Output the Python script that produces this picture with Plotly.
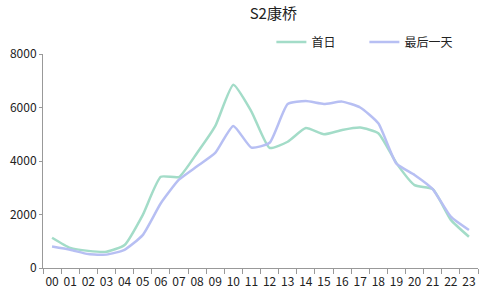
import plotly.graph_objects as go

hours = [f"{h:02d}" for h in range(24)]
first_day = [1130, 750, 640, 610, 860, 1980, 3410, 3400, 4300, 5300, 6850, 5850,
             4490, 4720, 5230, 5000, 5160, 5250, 5040, 3920, 3100, 2950, 1800, 1170]
last_day = [800, 680, 520, 500, 680, 1230, 2420, 3300, 3800, 4300, 5310, 4500,
            4680, 6130, 6240, 6130, 6220, 6000, 5410, 3900, 3480, 2950, 1920, 1420]
y_ticks = [0, 2000, 4000, 6000, 8000]

font = "Noto Sans CJK SC"
fig = go.Figure()
fig.add_trace(go.Scatter(x=hours, y=first_day, name="首日", mode="lines",
                         line=dict(color="#a3dcc8", width=2.5, shape="spline", smoothing=0.5)))
fig.add_trace(go.Scatter(x=hours, y=last_day, name="最后一天", mode="lines",
                         line=dict(color="#b7bff3", width=2.5, shape="spline", smoothing=0.5)))

fig.update_layout(
    width=488, height=302,
    margin=dict(l=39, r=10, t=54, b=34),
    paper_bgcolor="white", plot_bgcolor="white",
    font=dict(family=font, size=11, color="#222"),
    title=dict(text="S2康桥", x=0.56, xanchor="center", y=0.955, yanchor="middle",
               font=dict(size=15, color="#222", family=font)),
    legend=dict(orientation="h", x=0.525, xanchor="left", y=1.056, yanchor="middle",
                font=dict(size=12), itemwidth=30, entrywidth=48),
    showlegend=True,
)
fig.update_xaxes(type="category", showgrid=False, showline=True, linecolor="#999",
                 ticks="outside", ticklen=5, tickcolor="#999", tickson="boundaries",
                 tickangle=0, tickfont=dict(size=12), ticklabelstandoff=3,
                 range=[-0.5, 23.5])
fig.update_yaxes(range=[0, 8000], tickvals=y_ticks, showgrid=False, showline=True,
                 linecolor="#999", ticks="outside", ticklen=3, tickcolor="#999",
                 tickfont=dict(size=12), zeroline=False)

fig.write_html("out.html")
